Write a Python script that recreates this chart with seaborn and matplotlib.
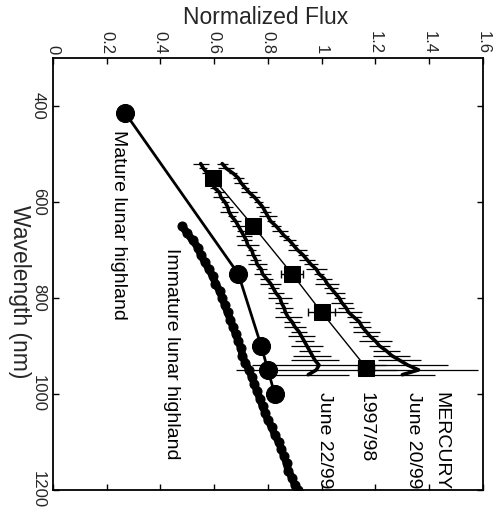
import matplotlib
matplotlib.use("Agg")
import matplotlib.pyplot as plt
import seaborn as sns
import pandas as pd

# ---------------- data ----------------
flux_ticks = [0, 0.2, 0.4, 0.6, 0.8, 1.0, 1.2, 1.4, 1.6]
flux_tick_labels = ["0", "0.2", "0.4", "0.6", "0.8", "1", "1.2", "1.4", "1.6"]
wl_ticks = [400, 600, 800, 1000, 1200]
wl_tick_labels = ["400", "600", "800", "1000", "1200"]

# Mature lunar highland (circles)
mature_wl = [415, 750, 900, 950, 1000]
mature_flux = [0.27, 0.69, 0.775, 0.80, 0.825]

# Immature lunar highland (thick dotted curve)
immature_wl = [650, 665, 680, 695, 710, 725, 740, 755, 770, 785, 800, 815, 830,
               845, 860, 875, 890, 905, 920, 935, 950, 965, 980, 995, 1010,
               1025, 1040, 1055, 1070, 1085, 1100, 1115, 1130, 1145, 1160,
               1175, 1190, 1200]
immature_flux = [0.48, 0.50, 0.52, 0.54, 0.55, 0.565, 0.58, 0.595, 0.605, 0.62,
                 0.63, 0.64, 0.65, 0.66, 0.67, 0.68, 0.69, 0.70, 0.705, 0.715,
                 0.73, 0.74, 0.75, 0.76, 0.77, 0.78, 0.79, 0.80, 0.815, 0.825,
                 0.84, 0.85, 0.86, 0.87, 0.875, 0.89, 0.90, 0.91]

# Mercury spectra
merc_wl = [520, 530, 540, 550, 560, 570, 580, 590, 600, 610, 620, 630, 640, 650,
           660, 670, 680, 690, 700, 710, 720, 730, 740, 750, 760, 770, 780, 790,
           800, 810, 820, 830, 840, 850, 860, 870, 880, 890, 900, 910, 920, 930,
           940, 950, 960]
june22_flux = [0.55, 0.56, 0.575, 0.58, 0.595, 0.60, 0.62, 0.625, 0.64, 0.65,
               0.655, 0.665, 0.68, 0.69, 0.70, 0.71, 0.72, 0.725, 0.74, 0.745,
               0.755, 0.76, 0.775, 0.78, 0.795, 0.81, 0.82, 0.83, 0.845, 0.85,
               0.86, 0.865, 0.875, 0.89, 0.90, 0.915, 0.925, 0.935, 0.945, 0.955,
               0.965, 0.975, 0.99, 0.98, 0.95]
june22_err = [0.03, 0.015, 0.02, 0.01, 0.025, 0.015, 0.02, 0.03, 0.015, 0.02,
              0.035, 0.015, 0.02, 0.025, 0.015, 0.03, 0.02, 0.04, 0.015, 0.025,
              0.02, 0.035, 0.02, 0.03, 0.025, 0.04, 0.02, 0.03, 0.045, 0.025,
              0.035, 0.02, 0.05, 0.03, 0.04, 0.03, 0.05, 0.035, 0.06, 0.04,
              0.07, 0.09, 0.25, 0.30, 0.15]
june20_flux = [0.63, 0.645, 0.67, 0.69, 0.70, 0.715, 0.73, 0.75, 0.765, 0.78,
               0.79, 0.80, 0.81, 0.83, 0.845, 0.86, 0.88, 0.895, 0.91, 0.93,
               0.945, 0.96, 0.98, 0.99, 1.01, 1.02, 1.035, 1.05, 1.065, 1.075,
               1.09, 1.10, 1.12, 1.14, 1.15, 1.165, 1.18, 1.20, 1.215, 1.24,
               1.26, 1.29, 1.32, 1.36, 1.30]
june20_err = [0.02, 0.03, 0.015, 0.02, 0.025, 0.015, 0.03, 0.02, 0.015, 0.025,
              0.02, 0.035, 0.015, 0.02, 0.03, 0.02, 0.025, 0.015, 0.035, 0.02,
              0.03, 0.025, 0.04, 0.02, 0.03, 0.045, 0.025, 0.035, 0.02, 0.04,
              0.03, 0.05, 0.025, 0.04, 0.035, 0.05, 0.03, 0.06, 0.04, 0.05,
              0.07, 0.08, 0.15, 0.22, 0.12]

# 1997/98 (squares)
y9798_wl = [550, 650, 750, 830, 945]
y9798_flux = [0.595, 0.745, 0.89, 1.0, 1.165]
y9798_err = [0.02, 0.02, 0.04, 0.05, 0.03]

labels = ["Mature lunar highland", "Immature lunar highland",
          "June 22/99", "1997/98", "June 20/99", "MERCURY"]

# ---------------- style ----------------
sns.set_theme(style="ticks")
plt.rcParams["font.family"] = ["Liberation Sans", "DejaVu Sans"]

fig = plt.figure(figsize=(4.98, 5.14), dpi=100)
ax = fig.add_axes([0.106, 0.047, 0.864, 0.840])

# Mercury noisy spectra with horizontal error hairs
ax.errorbar(june22_flux, merc_wl, xerr=june22_err, fmt="-", color="black",
            lw=2.6, elinewidth=0.9, capsize=0)
ax.errorbar(june20_flux, merc_wl, xerr=june20_err, fmt="-", color="black",
            lw=2.6, elinewidth=0.9, capsize=0)
ax.errorbar(y9798_flux, y9798_wl, xerr=y9798_err, fmt="none", ecolor="black",
            elinewidth=1.0, capsize=3)

df_sq = pd.DataFrame({"flux": y9798_flux, "wl": y9798_wl})
sns.lineplot(data=df_sq, x="flux", y="wl", sort=False, estimator=None,
             color="black", lw=1.0, marker="s", markersize=11,
             markeredgecolor="black", ax=ax)

df_m = pd.DataFrame({"flux": mature_flux, "wl": mature_wl})
sns.lineplot(data=df_m, x="flux", y="wl", sort=False, estimator=None,
             color="black", lw=2.0, marker="o", markersize=13,
             markeredgecolor="black", ax=ax)

df_i = pd.DataFrame({"flux": immature_flux, "wl": immature_wl})
sns.lineplot(data=df_i, x="flux", y="wl", sort=False, estimator=None,
             color="black", lw=5.5, marker="o", markersize=6.5,
             markeredgecolor="black", ax=ax)

# ---------------- axes ----------------
ax.set_xlim(0, 1.6)
ax.set_ylim(1200, 300)
ax.xaxis.tick_top()
ax.xaxis.set_label_position("top")
ax.set_xticks(flux_ticks)
ax.set_xticklabels(flux_tick_labels, rotation=-90, fontsize=12)
ax.set_yticks(wl_ticks)
ax.set_yticklabels(wl_tick_labels, rotation=-90, fontsize=12, va="center")
ax.tick_params(axis="both", direction="in", length=4, width=1.0,
               top=True, bottom=True, left=True, right=True, color="black")
ax.tick_params(axis="x", labeltop=True, labelbottom=False, pad=3)
ax.tick_params(axis="y", pad=5)
for s in ax.spines.values():
    s.set_visible(True)
    s.set_linewidth(1.3)
    s.set_color("black")

ax.set_xlabel("Normalized Flux", fontsize=16.5)
ax.xaxis.set_label_coords(0.495, 1.095)
ax.set_ylabel("Wavelength (nm)", fontsize=16.5, rotation=-90)
ax.yaxis.set_label_coords(-0.077, 0.46)
ax.yaxis.label.set_va("center")
ax.xaxis.label.set_va("center")

# ---------------- annotations ----------------
ann_x = [0.245, 0.44, 1.01, 1.165, 1.34, 1.443]
ann_y = [450, 696, 996, 996, 996, 996]
for t, xx, yy in zip(labels, ann_x, ann_y):
    ax.text(xx, yy, t, rotation=-90, ha="center", va="top", fontsize=14,
            color="black")

fig.savefig("out.png", dpi=100)
